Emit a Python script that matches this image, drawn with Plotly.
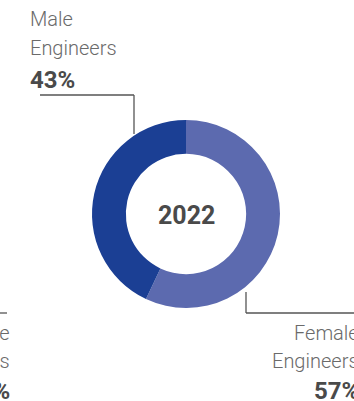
import plotly.graph_objects as go

# Engineering workforce split for 2022
year = "2022"
labels = ["Female Engineers", "Male Engineers"]
values = [57, 43]
colors = ["#5c6aaf", "#1b3f94"]

W, H = 354, 401


def px(x):
    return x / W


def py(y):
    return 1 - y / H


fig = go.Figure(
    go.Pie(
        labels=labels,
        values=values,
        hole=0.64,
        sort=False,
        direction="clockwise",
        rotation=0,
        marker=dict(colors=colors, line=dict(width=0)),
        textinfo="none",
        hoverinfo="label+percent",
        showlegend=False,
        domain=dict(x=[px(92), px(280)], y=[py(308), py(120)]),
    )
)

text_font = "Roboto, Arial, sans-serif"
grey = "#6a6a6a"
dark = "#4a4a4a"

ann = []
# centre label
ann.append(dict(x=px(186), y=py(215), text=f"<b>{year}</b>", showarrow=False,
                font=dict(family=text_font, size=25, color=dark),
                xanchor="center", yanchor="middle"))


def label_lines(name, pct):
    first, second = name.split(" ")
    return [(first, 20, grey, 300), (second, 20, grey, 300), (f"<b>{pct}%</b>", 24, dark, 700)]


# male label (top-left)
for (t, size, col, wt), y in zip(label_lines(labels[1], values[1]), [19, 48, 80]):
    ann.append(dict(x=px(28), y=py(y), text=t, showarrow=False,
                    font=dict(family=text_font, size=size, color=col, weight=wt),
                    xanchor="left", yanchor="middle"))

# female label (bottom-right, running off the edge)
for (t, size, col, wt), y in zip(label_lines(labels[0], values[0]), [333, 361, 391]):
    ann.append(dict(x=px(361), y=py(y), text=t, showarrow=False,
                    font=dict(family=text_font, size=size, color=col, weight=wt),
                    xanchor="right", yanchor="middle", align="right"))

# neighbouring panel's label clipped at the left edge
for (t, size, col, wt), y in zip(label_lines(labels[0], values[0]), [333, 361, 391]):
    ann.append(dict(x=px(12), y=py(y), text=t, showarrow=False,
                    font=dict(family=text_font, size=size, color=col, weight=wt),
                    xanchor="right", yanchor="middle", align="right"))

line = dict(color="#555555", width=1.3)
shapes = [
    # male leader
    dict(type="line", xref="paper", yref="paper", x0=px(40), y0=py(95), x1=px(134), y1=py(95), line=line),
    dict(type="line", xref="paper", yref="paper", x0=px(134), y0=py(95), x1=px(134), y1=py(134), line=line),
    # female leader
    dict(type="line", xref="paper", yref="paper", x0=px(246), y0=py(292), x1=px(246), y1=py(313), line=line),
    dict(type="line", xref="paper", yref="paper", x0=px(246), y0=py(313), x1=px(360), y1=py(313), line=line),
    # left edge fragment
    dict(type="line", xref="paper", yref="paper", x0=px(-20), y0=py(313), x1=px(7), y1=py(313), line=line),
]

fig.update_layout(
    width=W, height=H,
    margin=dict(l=0, r=0, t=0, b=0),
    paper_bgcolor="white", plot_bgcolor="white",
    annotations=ann, shapes=shapes,
)

fig.write_html("out.html")
